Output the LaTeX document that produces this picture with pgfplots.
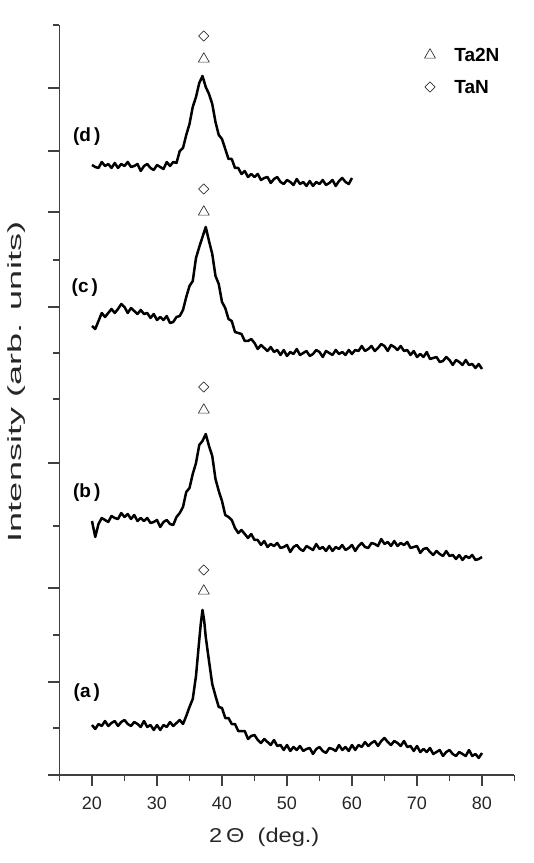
\documentclass[border=0pt]{standalone}
\usepackage{fontspec}
\setmainfont{Liberation Sans}
\usepackage{pgfplots}
\pgfplotsset{compat=1.18}
\begin{document}
\begin{tikzpicture}
\begin{axis}[
  scale only axis, width=455pt, height=750pt,
  xmin=15, xmax=85, ymin=0, ymax=750,
  axis x line*=bottom, axis y line*=left,
  axis line style={line width=1.4pt, color=black!75, -},
  xtick={20,30,...,80}, minor xtick={15,25,...,85},
  ytick={0,93,187,312,468,563,624,687}, yticklabels={},
  minor ytick={47,140,249,376,422,515,750},
  tick align=outside, major tick length=11pt, minor tick length=6pt,
  every tick/.style={line width=1.2pt, color=black!75},
  xticklabel style={font=\fontsize{18}{21}\selectfont, text=black!85, yshift=-7pt},
  /pgf/number format/assume math mode=true,
  clip=false,
  every axis plot/.append style={line join=round},
]
\path (axis cs:5.846,-88) rectangle (axis cs:88,775);
% (a)
\addplot[black, line width=2.5pt] coordinates {
(20,50)(20.5,46)(21,51)(21.5,49)(22,54)(22.5,49)(23,52)(23.5,54)(24,49)(24.5,53)
(25,55)(25.5,51)(26,49)(26.5,53)(27,51)(27.5,48)(28,54)(28.5,48)(29,50)(29.5,45)
(30,50)(30.5,45)(31,50)(31.5,48)(32,53)(32.5,49)(33,52)(33.5,55)(34,51)(34.5,59)
(35,68)(35.5,76)(36,99)(36.5,135)(36.75,152)(37,165)(37.25,155)(37.5,138)(38,114)(38.5,91)(39,79)(39.5,68)
(40,67)(40.5,57)(41,57)(41.5,51)(42,51)(42.5,44)(43,44)(43.5,44)(44,36)(44.5,39)
(45,40)(45.5,35)(46,32)(46.5,36)(47,33)(47.5,30)(48,35)(48.5,29)(49,30)(49.5,25)
(50,30)(50.5,24)(51,28)(51.5,25)(52,29)(52.5,24)(53,26)(53.5,27)(54,21)(54.5,26)
(55,28)(55.5,24)(56,22)(56.5,27)(57,26)(57.5,24)(58,30)(58.5,25)(59,28)(59.5,24)
(60,30)(60.5,25)(61,30)(61.5,28)(62,33)(62.5,29)(63,32)(63.5,34)(64,29)(64.5,34)
(65,37)(65.5,33)(66,30)(66.5,34)(67,32)(67.5,29)(68,34)(68.5,28)(69,29)(69.5,24)
(70,29)(70.5,23)(71,26)(71.5,23)(72,27)(72.5,21)(73,23)(73.5,25)(74,19)(74.5,23)
(75,25)(75.5,21)(76,19)(76.5,23)(77,21)(77.5,19)(78,25)(78.5,19)(79,21)(79.5,17)(80,22)
};
% (b)
\addplot[black, line width=2.5pt] coordinates {
(20,254)(20.5,238)(21,251)(21.5,257)(22,255)(22.5,253)(23,259)(23.5,257)(24,256)(24.5,262)
(25,258)(25.5,261)(26,256)(26.5,260)(27,254)(27.5,257)(28,254)(28.5,257)(29,252)(29.5,253)
(30,255)(30.5,248)(31,253)(31.5,255)(32,251)(32.5,250)(33,258)(33.5,262)(34,268)(34.5,283)
(35,287)(35.5,301)(36,312)(36.5,330)(37,334)(37.5,341)(38,329)(38.5,319)(39,296)(39.5,284)
(40,274)(40.5,260)(41,258)(41.5,255)(42,247)(42.5,242)(43,245)(43.5,241)(44,237)(44.5,241)
(45,235)(45.5,235)(46,230)(46.5,234)(47,228)(47.5,231)(48,229)(48.5,232)(49,227)(49.5,228)
(50,230)(50.5,223)(51,228)(51.5,230)(52,226)(52.5,224)(53,229)(53.5,227)(54,225)(54.5,231)
(55,226)(55.5,228)(56,224)(56.5,229)(57,224)(57.5,228)(58,226)(58.5,230)(59,225)(59.5,227)
(60,230)(60.5,224)(61,229)(61.5,232)(62,228)(62.5,227)(63,232)(63.5,231)(64,229)(64.5,236)
(65,231)(65.5,233)(66,229)(66.5,234)(67,229)(67.5,232)(68,230)(68.5,233)(69,227)(69.5,228)
(70,229)(70.5,222)(71,226)(71.5,227)(72,223)(72.5,220)(73,224)(73.5,221)(74,219)(74.5,224)
(75,219)(75.5,220)(76,216)(76.5,220)(77,215)(77.5,219)(78,217)(78.5,220)(79,215)(79.5,216)(80,218)
};
% (c)
\addplot[black, line width=2.5pt] coordinates {
(20,449)(20.5,446)(21,454)(21.5,462)(22,458)(22.5,462)(23,466)(23.5,462)(24,466)(24.5,471)
(25,468)(25.5,462)(26,467)(26.5,464)(27,461)(27.5,465)(28,461)(28.5,462)(29,457)(29.5,461)
(30,455)(30.5,458)(31,455)(31.5,459)(32,452)(32.5,453)(33,458)(33.5,459)(34,465)(34.5,478)
(35,489)(35.5,494)(36,517)(36.5,528)(37,538)(37.5,548)(38,534)(38.5,521)(39,499)(39.5,491)
(40,473)(40.5,467)(41,456)(41.5,454)(42,443)(42.5,442)(43,441)(43.5,434)(44,434)(44.5,436)
(45,432)(45.5,426)(46,430)(46.5,427)(47,424)(47.5,428)(48,423)(48.5,425)(49,420)(49.5,425)
(50,419)(50.5,423)(51,421)(51.5,426)(52,420)(52.5,422)(53,424)(53.5,419)(54,421)(54.5,425)
(55,423)(55.5,418)(56,424)(56.5,422)(57,420)(57.5,425)(58,421)(58.5,423)(59,420)(59.5,425)
(60,421)(60.5,425)(61,424)(61.5,429)(62,424)(62.5,426)(63,429)(63.5,424)(64,427)(64.5,431)
(65,429)(65.5,424)(66,430)(66.5,428)(67,425)(67.5,429)(68,424)(68.5,425)(69,420)(69.5,424)
(70,418)(70.5,421)(71,418)(71.5,423)(72,416)(72.5,417)(73,418)(73.5,413)(74,414)(74.5,418)
(75,415)(75.5,410)(76,415)(76.5,413)(77,410)(77.5,415)(78,410)(78.5,411)(79,407)(79.5,411)(80,406)
};
% (d)
\addplot[black, line width=2.5pt] coordinates {
(20,610)(20.5,608)(21,607)(21.5,613)(22,609)(22.5,611)(23,607)(23.5,612)(24,607)(24.5,611)
(25,609)(25.5,613)(26,608)(26.5,609)(27,611)(27.5,604)(28,609)(28.5,611)(29,607)(29.5,605)
(30,610)(30.5,608)(31,606)(31.5,613)(32,609)(32.5,613)(33,612)(33.5,624)(34,627)(34.5,640)
(35,651)(35.5,668)(36,678)(36.5,692)(37,699)(37.5,688)(38,681)(38.5,671)(39,653)(39.5,640)
(40,636)(40.5,626)(41,616)(41.5,616)(42,607)(42.5,607)(43,601)(43.5,604)(44,598)(44.5,601)
(45,598)(45.5,601)(46,595)(46.5,597)(47,598)(47.5,592)(48,596)(48.5,598)(49,593)(49.5,591)
(50,595)(50.5,593)(51,590)(51.5,596)(52,591)(52.5,593)(53,589)(53.5,594)(54,589)(54.5,593)
(55,591)(55.5,595)(56,590)(56.5,592)(57,595)(57.5,589)(58,594)(58.5,597)(59,593)(59.5,591)(60,597)
};
% phase markers
\addplot[only marks, mark=triangle, mark size=6.3pt, black!80, mark options={line width=0.7pt}] coordinates {
(37.2,184)(37.2,365)(37.2,563)(37.2,716)(72.0,720)};
\addplot[only marks, mark=square, mark size=3.6pt, black!80, mark options={line width=0.7pt, rotate=45}] coordinates {
(37.2,205)(37.2,388)(37.2,586)(37.2,739)(72.0,688)};
\node[anchor=west, font=\bfseries\fontsize{19}{22}\selectfont] at (axis cs:75.2,720) {Ta2N};
\node[anchor=west, font=\bfseries\fontsize{19}{22}\selectfont] at (axis cs:75.2,688) {TaN};
% curve labels
\node[font=\bfseries\fontsize{19}{22}\selectfont] at (axis cs:19.2,82) {(a\hspace{3pt})};
\node[font=\bfseries\fontsize{19}{22}\selectfont] at (axis cs:19.2,282) {(b\hspace{3pt})};
\node[font=\bfseries\fontsize{19}{22}\selectfont] at (axis cs:18.9,487) {(c\hspace{3pt})};
\node[font=\bfseries\fontsize{19}{22}\selectfont] at (axis cs:19.2,638) {(d\hspace{3pt})};
% axis titles
\node[font=\fontsize{20}{24}\selectfont, text=black!85] at (axis cs:46.5,-62) {\scalebox{1.18}[1]{2\,Θ\; (deg.)}};
\node[rotate=90, font=\fontsize{19}{22}\selectfont, text=black!85] at (axis cs:8.38,393) {\scalebox{1.9}[1]{Intensity (arb. units)}};
\end{axis}
\end{tikzpicture}
\end{document}
